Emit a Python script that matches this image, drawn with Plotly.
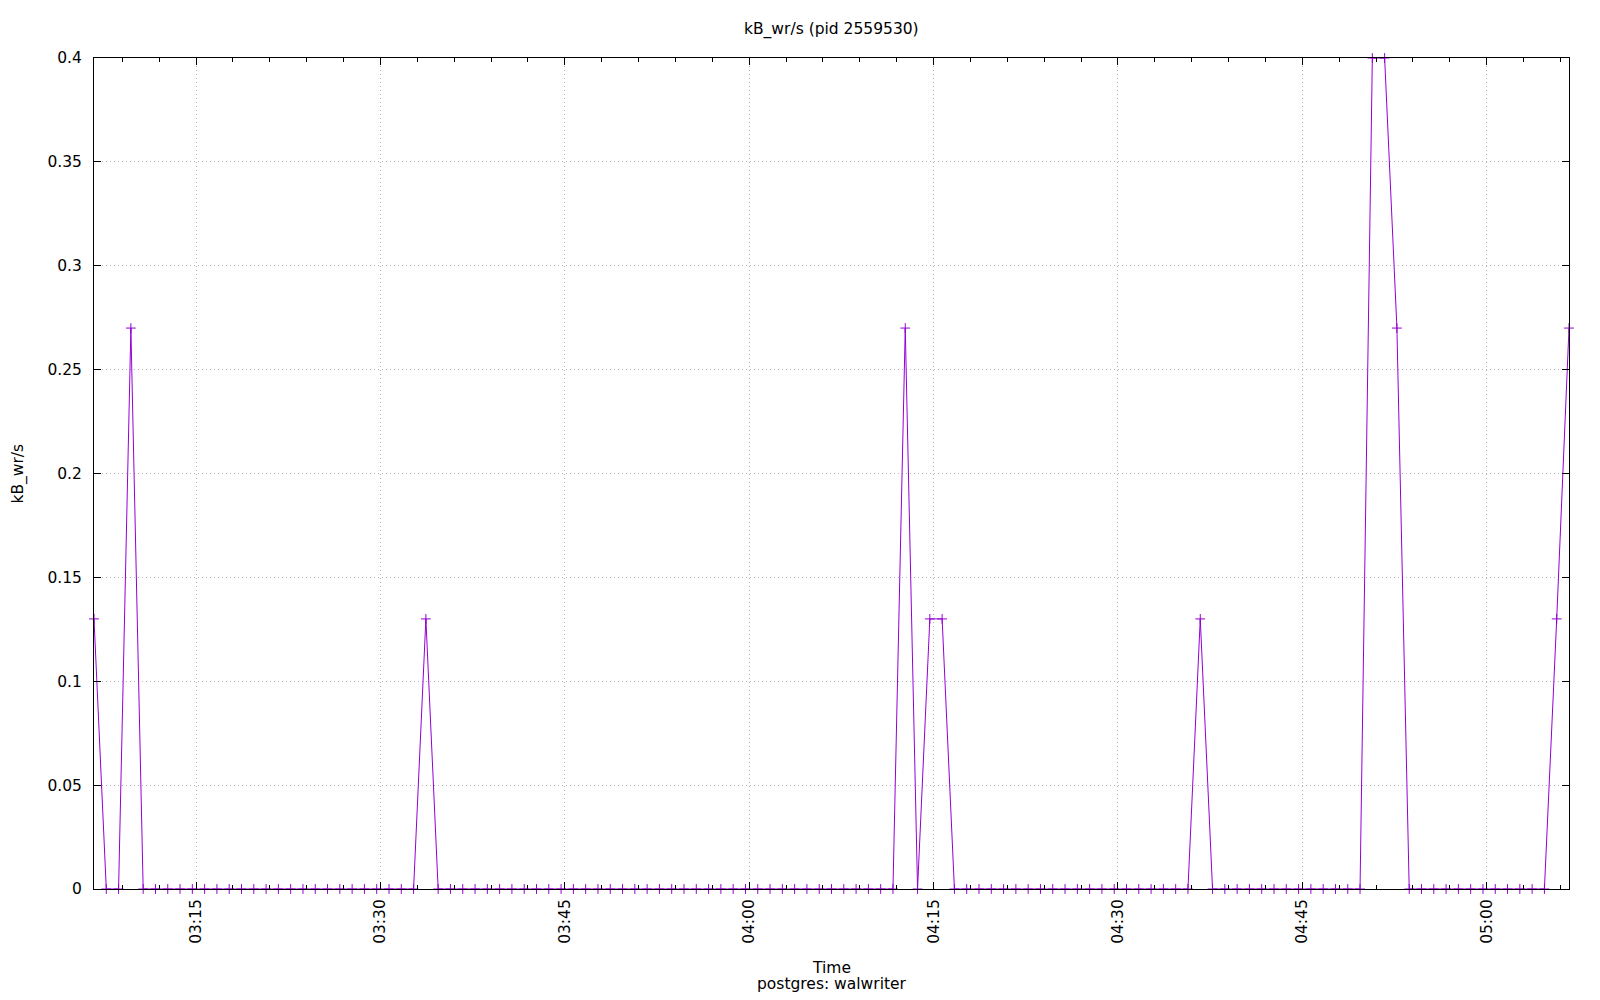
import pandas as pd
import plotly.graph_objects as go

# ---- data ----
start_time = "2024-01-01 03:06:42"
interval_minutes = 1
values = [
    0.13, 0, 0, 0.27, 0, 0, 0, 0, 0, 0,
    0, 0, 0, 0, 0, 0, 0, 0, 0, 0,
    0, 0, 0, 0, 0, 0, 0, 0.13, 0, 0,
    0, 0, 0, 0, 0, 0, 0, 0, 0, 0,
    0, 0, 0, 0, 0, 0, 0, 0, 0, 0,
    0, 0, 0, 0, 0, 0, 0, 0, 0, 0,
    0, 0, 0, 0, 0, 0, 0.27, 0, 0.13, 0.13,
    0, 0, 0, 0, 0, 0, 0, 0, 0, 0,
    0, 0, 0, 0, 0, 0, 0, 0, 0, 0,
    0.13, 0, 0, 0, 0, 0, 0, 0, 0, 0,
    0, 0, 0, 0, 0.40, 0.40, 0.27, 0, 0, 0,
    0, 0, 0, 0, 0, 0, 0, 0, 0, 0.13,
    0.27,
]
times = pd.date_range(start=start_time, periods=len(values), freq=f"{interval_minutes}min")

title_text = "kB_wr/s (pid 2559530)"
y_title = "kB_wr/s"
x_title = "Time"
subtitle = "postgres: walwriter"
y_ticks = [0, 0.05, 0.1, 0.15, 0.2, 0.25, 0.3, 0.35, 0.4]

FONT = "DejaVu Sans"
FS = 15.5
COLOR = "#9400D3"
GRID = "#b4b4b4"

fig = go.Figure()
fig.add_trace(go.Scatter(
    x=times, y=values,
    mode="lines+markers",
    line=dict(color=COLOR, width=1),
    marker=dict(symbol="cross-thin", size=7, line=dict(color=COLOR, width=1)),
    cliponaxis=False,
    showlegend=False,
))

# the page body adds an 8px offset; figure is sized so the page is 1600x1000
fig.update_layout(
    width=1584, height=984,
    margin=dict(l=86, r=23, t=50, b=103),
    paper_bgcolor="white", plot_bgcolor="white",
    font=dict(family=FONT, size=FS, color="black"),
    showlegend=False,
)

fig.update_xaxes(
    type="date",
    range=[times[0], times[-1]],
    tickformat="%H:%M",
    tick0="2024-01-01 03:00:00",
    dtick=15 * 60 * 1000,
    tickangle=-90,
    ticks="inside", ticklen=7, tickwidth=1, tickcolor="black",
    showline=True, linecolor="black", linewidth=1, mirror="allticks",
    showgrid=True, gridcolor=GRID, griddash="1px,3px", gridwidth=1,
    minor=dict(dtick=3 * 60 * 1000, tick0="2024-01-01 03:00:00",
               ticks="inside", ticklen=4, tickcolor="black", showgrid=False),
    ticklabelstandoff=3,
    zeroline=False,
)
fig.update_yaxes(
    range=[0, 0.4],
    tickvals=y_ticks,
    ticktext=[f"{v:g}" for v in y_ticks],
    ticks="inside", ticklen=7, tickwidth=1, tickcolor="black",
    showline=True, linecolor="black", linewidth=1, mirror="allticks",
    showgrid=True, gridcolor=GRID, griddash="1px,3px", gridwidth=1,
    ticklabelstandoff=8,
    zeroline=False,
)

fig.add_annotation(text=title_text, xref="paper", yref="paper", x=0.5, y=1.0342,
                   xanchor="center", yanchor="middle", showarrow=False,
                   font=dict(family=FONT, size=FS))
fig.add_annotation(text=y_title, xref="paper", yref="paper", x=-0.0515, y=0.5,
                   xanchor="center", yanchor="middle", showarrow=False, textangle=-90,
                   font=dict(family=FONT, size=FS))
fig.add_annotation(text=x_title, xref="paper", yref="paper", x=0.5, y=-0.0951,
                   xanchor="center", yanchor="middle", showarrow=False,
                   font=dict(family=FONT, size=FS))
fig.add_annotation(text=subtitle, xref="paper", yref="paper", x=0.5, y=-0.1143,
                   xanchor="center", yanchor="middle", showarrow=False,
                   font=dict(family=FONT, size=FS))

fig.write_html("out.html")
